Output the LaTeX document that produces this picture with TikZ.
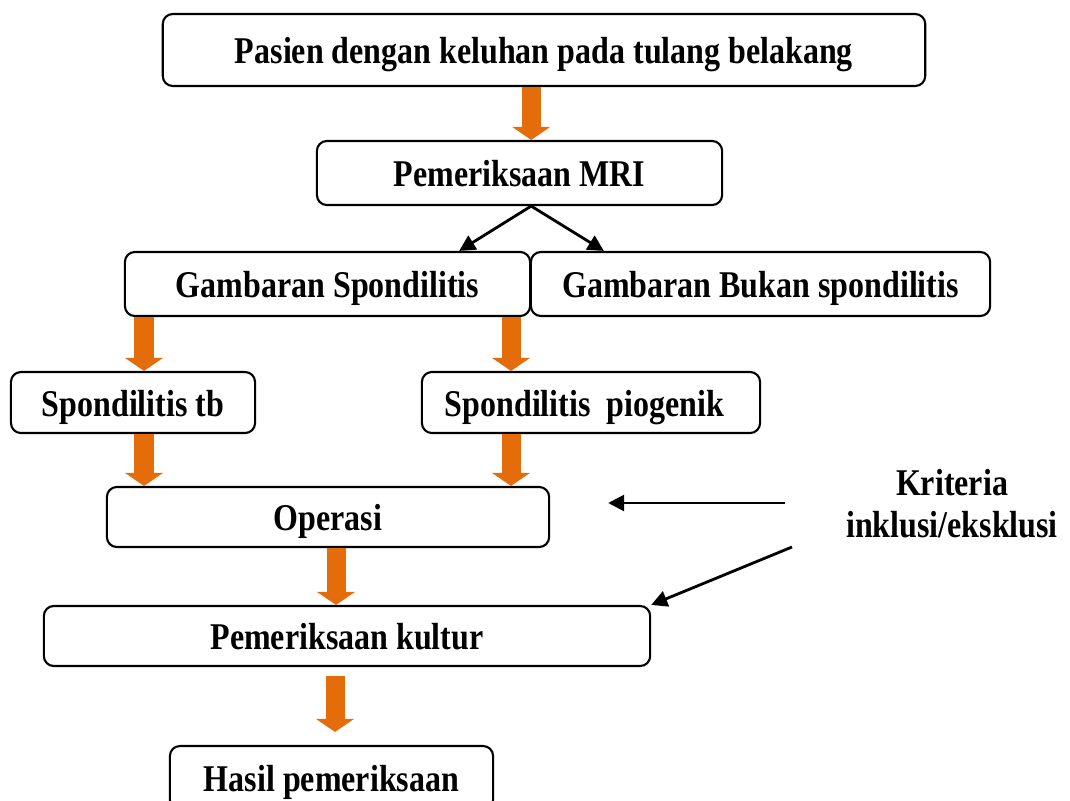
\documentclass[tikz,border=0pt]{standalone}
\usepackage{graphicx}
\usepackage{fontspec}
\setmainfont{Liberation Serif}
\usetikzlibrary{arrows.meta}
\definecolor{oranye}{HTML}{E46C0A}
\newcommand{\tinggi}[1]{\scalebox{1}[1.18]{#1}}
\tikzset{
  kotak/.style={
    rectangle,
    rounded corners=1mm,
    draw=black, line width=0.6pt,
    align=center,
    inner sep=0pt,
    text height=8.4pt, text depth=0.5pt,
    font=\bfseries\fontsize{9.1}{12}\selectfont},
}

\begin{document}
\begin{tikzpicture}[
    x=0.01cm, y=-0.01cm,
    blok/.style={draw=oranye, line width=0.19cm,
      -{Triangle[width=3.8mm, length=1.3mm, line width=0pt, fill=oranye]}},
    panah/.style={line width=0.8pt,
      -{Triangle[width=1.6mm, length=1.6mm]}},
    teks/.style={align=center, inner sep=0pt,
      font=\bfseries\fontsize{9.1}{12}\selectfont}
    ]
    \useasboundingbox (0,0) rectangle (1070,800);

    % boxes
    \node[kotak, minimum width=7.62cm, minimum height=0.72cm] (pasien) at (544,50) {\tinggi{Pasien dengan keluhan pada tulang belakang}};
    \node[kotak, minimum width=4.05cm, minimum height=0.64cm] (mri) at (519.5,173) {\tinggi{Pemeriksaan MRI}};
    \node[kotak, minimum width=4.05cm, minimum height=0.64cm] (gs) at (327.5,284) {\tinggi{Gambaran Spondilitis}};
    \node[kotak, minimum width=4.59cm, minimum height=0.64cm] (gb) at (760.5,284) {\tinggi{Gambaran Bukan spondilitis}};
    \node[kotak, minimum width=2.44cm, minimum height=0.61cm] (tb) at (133,402.5) {\tinggi{Spondilitis tb}};
    \node[kotak, minimum width=3.38cm, minimum height=0.61cm] (pio) at (591,402.5) {\tinggi{Spondilitis\ \ piogenik}\hspace*{1.3mm}};
    \node[kotak, minimum width=4.42cm, minimum height=0.60cm] (op) at (328,517) {\tinggi{Operasi}};
    \node[kotak, minimum width=6.06cm, minimum height=0.60cm] (kul) at (347,636) {\tinggi{Pemeriksaan kultur}};
    \node[kotak, minimum width=3.23cm, minimum height=0.64cm] (hasil) at (331.5,778) {\tinggi{Hasil pemeriksaan}};
    \node[teks] (krit) at (952,503.5) {\tinggi{Kriteria}\\\tinggi{inklusi/eksklusi}};

    % columns for the orange arrows
    \coordinate (colL) at (144,0);
    \coordinate (colR) at (511,0);
    \coordinate (colO) at (336,0);
    \coordinate (colH) at (335,0);

    % orange arrows
    \draw[blok] (pasien.south -| gs.east) -- (mri.north -| gs.east);
    \draw[blok] (gs.south -| colL) -- (tb.north -| colL);
    \draw[blok] (gs.south -| colR) -- (pio.north -| colR);
    \draw[blok] (tb.south -| colL) -- (op.north -| colL);
    \draw[blok] (pio.south -| colR) -- (op.north -| colR);
    \draw[blok] (op.south -| colO) -- (kul.north -| colO);
    \draw[blok, shorten <=0.9mm, shorten >=1.3mm] (kul.south -| colH) -- (hasil.north -| colH);

    % MRI split
    \coordinate (pisah) at (mri.south -| gs.east);
    \draw[panah] (pisah) -- ([xshift=-7.2mm]gs.north east);
    \draw[panah] (pisah) -- ([xshift=7.4mm]gb.north west);

    % kriteria
    \coordinate (k1) at (785,503);
    \coordinate (k2) at (792,547);
    \draw[panah] (k1) -- ([xshift=5.8mm]op.east |- k1);
    \draw[panah] (k2) -- (kul.north east);
\end{tikzpicture}
\end{document}
